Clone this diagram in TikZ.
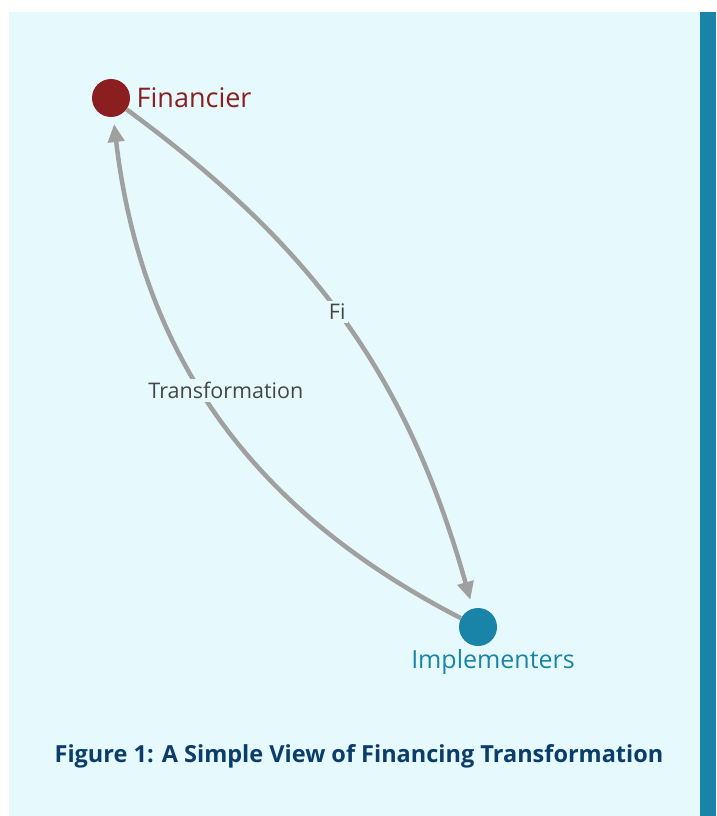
\documentclass[tikz,border=0pt]{standalone}
\usepackage{fontspec}
\setmainfont{Open Sans}
\usetikzlibrary{arrows.meta, positioning}

\definecolor{panelbg}{HTML}{E6FAFE}
\definecolor{sidebar}{HTML}{1A84A8}
\definecolor{finred}{HTML}{8B1E1E}
\definecolor{impblue}{HTML}{1A84A8}
\definecolor{flowgray}{HTML}{A0A0A0}
\definecolor{labelgray}{HTML}{454545}
\definecolor{capnavy}{HTML}{0B3D6B}

\begin{document}
\begin{tikzpicture}[
  x=1pt, y=-1pt,
  actor/.style={circle, minimum size=38pt, inner sep=0pt},
  actorlabel/.style={font=\fontsize{27}{31}\selectfont},
  flow/.style={draw=flowgray, line width=4.5pt, -{Triangle[length=18pt, width=16pt]}},
  flowlabel/.style={fill=panelbg, text=labelgray, inner sep=3pt, font=\fontsize{21.5}{25}\selectfont},
  caption/.style={font=\fontsize{23.5}{28}\selectfont\bfseries, text=capnavy}
]

% Page and panel
\useasboundingbox (0,0) rectangle (716,816);
\fill[panelbg] (9,12) rectangle (700,816);
\fill[sidebar] (700,12) rectangle (716,816);

% ============================================
% ACTORS
% ============================================
\node[actor, fill=finred] (fin) at (111,98) {};
\node[actorlabel, text=finred, right=3pt of fin] (finlabel) {Financier};

\node[actor, fill=impblue] (imp) at (478,627) {};
\node[actorlabel, font=\fontsize{25}{29}\selectfont, text=impblue, below=0pt of imp, xshift=15pt] (implabel) {Implementers};

% ============================================
% FLOWS
% ============================================
\draw[flow, shorten >=9pt] (fin) to[bend left=19] node[flowlabel, pos=0.47] (filabel) {Fi} (imp);
\draw[flow, shorten >=7pt] (imp) to[bend left=28] node[flowlabel, pos=0.55, xshift=24pt] (translabel) {Transformation} (fin);

% Caption
\node[caption] (cap) at (359,756) {Figure 1: A Simple View of Financing Transformation};

\end{tikzpicture}
\end{document}
